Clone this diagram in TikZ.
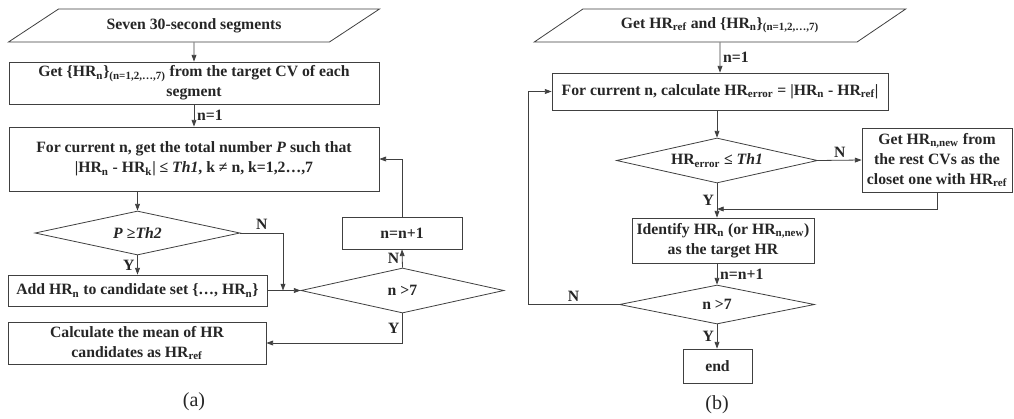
\documentclass[tikz,border=0pt]{standalone}
\usepackage{fontspec}
\setmainfont{Liberation Serif}
\usetikzlibrary{shapes.geometric,arrows.meta}
\newcommand{\hr}[1]{HR\textsubscript{#1}}

\begin{document}
\begin{tikzpicture}[x=0.75pt,y=-0.75pt,
		every node/.style={font=\fontsize{11.8}{15}\selectfont\bfseries, text=black!85},
		dims/.style 2 args={minimum width=#1*0.75pt, minimum height=#2*0.75pt},
		box/.style={shape=rectangle, draw=black!75, line width=0.6pt, align=center, inner sep=1pt},
		io/.style={trapezium, trapezium left angle=24, trapezium right angle=156,
				trapezium stretches=true, draw=black!75, line width=0.6pt, inner sep=0pt},
		decision/.style={diamond, draw=black!75, line width=0.6pt, shape aspect=4.5, inner sep=0pt},
		arr/.style={draw=black!75, line width=0.6pt, -{Triangle[length=5pt,width=3.6pt]}},
		lbl/.style={inner sep=2pt},
		subcap/.style={font=\fontsize{15}{18}\selectfont}
	]
	\useasboundingbox[fill=white] (0,0) rectangle (1014,418);

	% (a)
	\node[io, dims={372}{33}] (in1) at (194,25.5) {Seven 30-second segments};
	\node[box, dims={370}{42}] (get) at (194,83)
	{Get \{\hr{n}\}\textsubscript{(n=1,2,…,7)} from the target CV of each\\segment};
	\node[box, dims={370}{64}] (cur) at (194,159)
	{For current n, get the total number \textit{P} such that\\
		|\hr{n} - \hr{k}| ≤ \textit{Th1}, k ≠ n, k=1,2…,7};
	\node[decision, dims={205}{44}] (d1) at (137.5,233) {\textit{P} ≥\textit{Th2}};
	\node[box, dims={259}{31}] (add) at (137.5,290.5) {Add \hr{n} to candidate set \{…, \hr{n}\}};
	\node[decision, dims={203}{45}] (d2) at (402.5,290.5) {n >7};
	\node[box, dims={120}{32}] (inc) at (402,233) {n=n+1};
	\node[box, dims={258}{42}] (mean) at (137,343) {Calculate the mean of HR\\candidates as \hr{ref}};
	\node[subcap] (capa) at (194,402) {(a)};
	\coordinate (join) at (283,290.5);

	\draw[arr] (in1) -- (get);
	\draw[arr] (get) -- node[lbl, right] {n=1} (cur);
	\draw[arr] (d1.north |- cur.south) -- (d1.north);
	\draw[arr] (d1) -- node[lbl, left] {Y} (add);
	\draw[arr] (d1.east) -| node[lbl, pos=0.25, above] {N} (join);
	\draw[arr] (add.east) -- (d2.west);
	\draw[arr] (d2.north) -- node[lbl, left] {N} (inc.south);
	\draw[arr] (inc.north) |- (cur.east);
	\draw[arr] (d2.south) |- node[lbl, pos=0.25, left] {Y} (mean.east);

	% (b)
	\node[io, dims={372}{33}] (in2) at (720,25.5) {Get \hr{ref} and \{\hr{n}\}\textsubscript{(n=1,2,…,7)}};
	\node[box, dims={336}{37}] (calc) at (720,91.5)
	{For current n, calculate \hr{error} = |\hr{n} - \hr{ref}|};
	\node[decision, dims={201}{45}] (d3) at (717,160.5) {\hr{error} ≤ \textit{Th1}};
	\node[box, dims={150}{64}] (gnew) at (937,160)
	{Get \hr{n,new} from\\the rest CVs as the\\closet one with \hr{ref}};
	\node[box, dims={182}{45}] (ident) at (723,240.5) {Identify \hr{n} (or \hr{n,new})\\as the target HR};
	\node[decision, dims={195}{39}] (d4) at (717,304.5) {n >7};
	\node[box, dims={69}{34}] (endb) at (717.5,366) {end};
	\node[subcap] (capb) at (717,405) {(b)};
	\coordinate (merge) at (717,209);
	\coordinate (back) at (528,304.5);

	\draw[arr] (in2) -- node[lbl, right] {n=1} (calc);
	\draw[arr] (calc.south -| d3.north) -- (d3.north);
	\draw[arr] (d3.east) -- node[lbl, above] {N} (gnew.west);
	\draw[arr] (d3.south) -- node[lbl, left] {Y} (d3.south |- ident.north);
	\draw[arr] (gnew.south) |- (merge);
	\draw[arr] (d4.north |- ident.south) -- node[lbl, right] {n=n+1} (d4.north);
	\draw[arr] (d4.west) -- node[lbl, above] {N} (back) |- (calc.west);
	\draw[arr] (d4.south) -- node[lbl, left] {Y} (endb.north -| d4.south);
\end{tikzpicture}
\end{document}
